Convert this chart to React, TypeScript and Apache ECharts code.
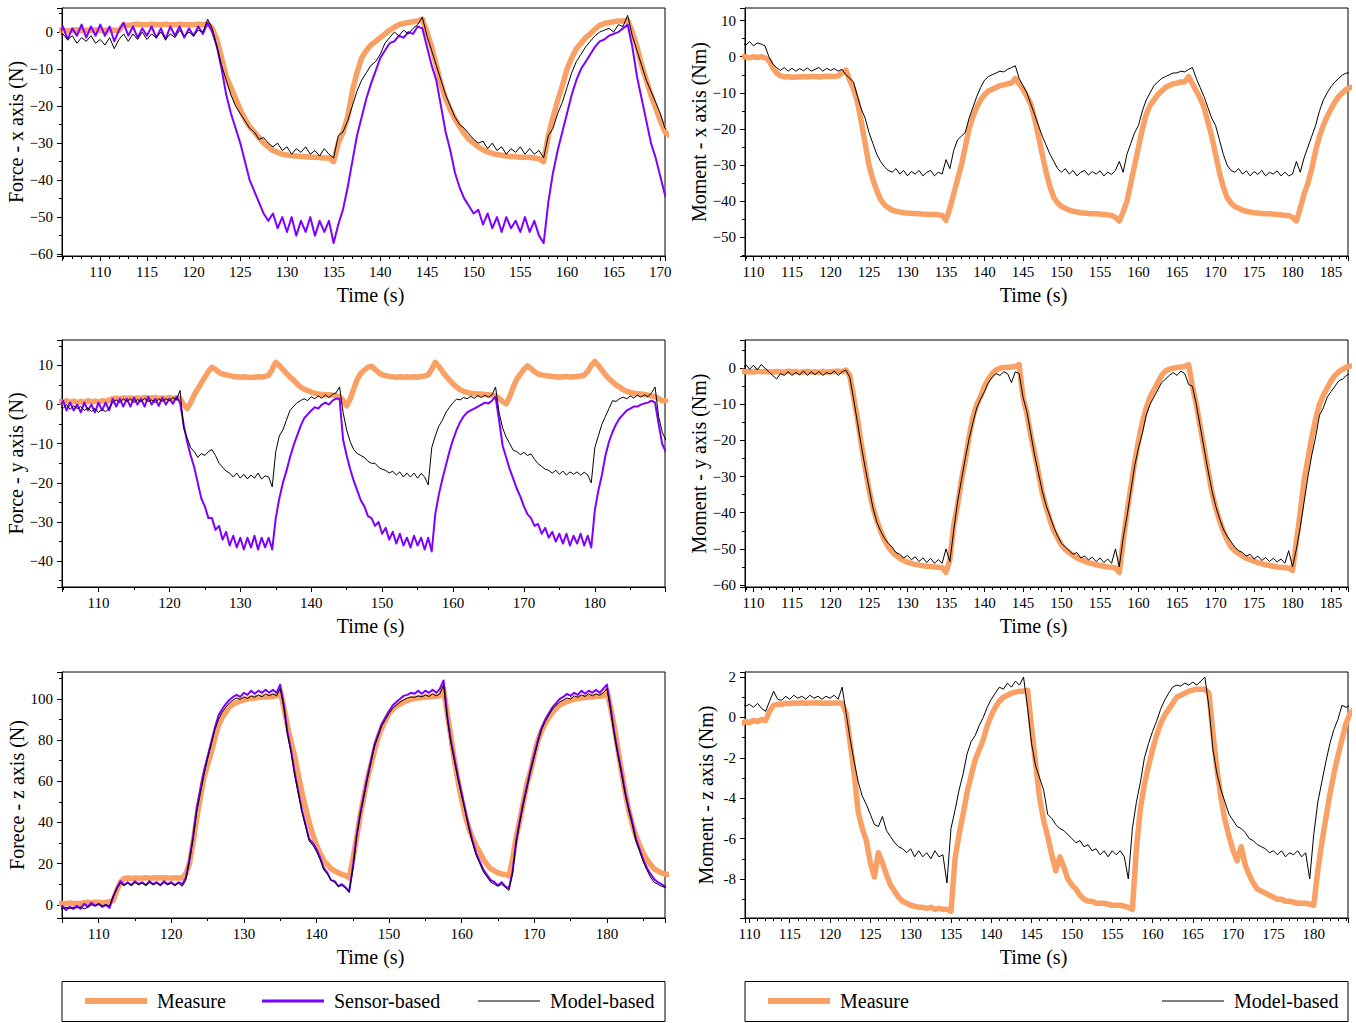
import React, { useEffect, useRef } from 'react';
import * as echarts from 'echarts';

// Every trace is sampled on a 0.5 s grid starting at its panel's T0.
const STEP = 0.5;

// ---- Force, x axis (N), from 105 s ----
const FX_T0 = 105;
const fxMeasure = [
  0.5, 0.5, 0.5, 0.3, 0.5, 0.6, 0.4, 0.5, 0.5, 0.6, // 105
  0.5, 0.5, 0.6, 0.5, 0.4, 2.0, 1.8, 2.0, 2.1, 2.0, // 110
  2.0, 2.1, 2.0, 2.0, 2.1, 2.0, 2.0, 2.1, 2.0, 2.0, // 115
  2.0, 2.1, 2.0, 2.2, 1.0, -2, -7, -12, -15, -18, // 120
  -21, -23.5, -25.5, -27, -28.5, -30, -31, -32, -32.5, -33, // 125
  -33.2, -33.4, -33.5, -33.6, -33.7, -33.8, -33.8, -33.9, -34, -34, // 130
  -35, -30, -27, -23, -16, -11, -7, -5, -3.5, -2.5, // 135
  -1.5, -0.5, 0.5, 1.3, 2.0, 2.3, 2.6, 2.8, 3.0, 3.5, // 140
  0, -4, -9, -14, -18, -21, -23.5, -25.5, -27.5, -29, // 145
  -30, -31, -31.8, -32.4, -32.8, -33.1, -33.3, -33.5, -33.6, -33.7, // 150
  -33.8, -33.8, -33.9, -34, -34.2, -35, -28, -23, -18.5, -14.5, // 155
  -10, -7, -4.5, -3, -1.5, -0.5, 0.8, 1.8, 2.3, 2.6, // 160
  2.8, 3.0, 3.0, 3.2, 0, -4, -9, -13, -17, -20.5, // 165
  -24, -27, -28, // 170
];
const fxSensor = [
  1, -1.5, 1.5, -2, 1, -1, 2, -1.5, 1.5, -1, // 105
  2, -1, 1.5, -2.5, 0.5, 2.5, -1, 1.5, -1.5, 1, // 110
  -1, 1.5, -1.5, 1, -2, 1.5, -1, 1.5, -1.5, 1, // 115
  -1, 1.5, -0.5, 2.5, 0, -4, -10, -17, -22, -26, // 120
  -30, -35, -40, -43, -46, -49, -51, -49, -53, -50, // 125
  -54, -50, -55, -51, -54, -50, -55, -51, -54, -51, // 130
  -57, -52, -48, -42, -35, -28, -23, -18, -14, -10.5, // 135
  -7, -5, -3, -2.5, -1, -1.5, 0, -0.5, 1.5, 1, // 140
  -4, -9, -13, -20, -27, -32, -38, -42, -45, -47, // 145
  -49, -48, -52, -49, -53, -50, -54, -50, -53, -51, // 150
  -54, -50, -54, -51, -55, -57, -46, -38, -32, -27, // 155
  -22, -17, -13, -10, -8, -6, -4, -2.5, -2, -1, // 160
  -0.5, 0, 1, 2, -4, -12, -18, -24, -30, -34, // 165
  -39, -44, -46, // 170
];
const fxModel = [
  0, -1, -0.5, -2, -1, -3, -1.5, -2.5, -1, -3, // 105
  -2, -3.5, -1.5, -4.5, -2, -0.5, -2.5, -0.5, -2, 0, // 110
  -2, -0.5, -1.5, 0, -2, -0.5, -1.5, 0.5, -1, 0, // 115
  -1, 0.5, 0, 3.5, 1, -4, -9, -13, -17, -20, // 120
  -22, -24, -26, -27, -29, -28.5, -30, -31, -30, -32, // 125
  -31, -33, -31.5, -32.5, -31, -33, -32, -33.5, -31.5, -33, // 130
  -34, -28, -27, -24, -20, -16, -13, -11, -9, -8, // 135
  -6, -3, -1.5, 0, -1, 0.5, -0.5, 1, 2, 4, // 140
  -1, -5, -9, -13, -17, -20, -23, -25, -26, -27.5, // 145
  -29, -30, -29.5, -31.5, -30, -32, -31, -33, -31.5, -32.5, // 150
  -31, -33, -31.5, -33, -32, -34, -28, -26, -22, -19, // 155
  -15, -11, -8, -6, -4, -2.5, -1, 0, 0.5, 1, // 160
  0, 2, 1.5, 4.5, -1, -5, -9, -13, -16, -19, // 165
  -22, -26, -27, // 170
];

// ---- Moment, x axis (Nm), from 108 s ----
const MX_T0 = 108;
const mxMeasure = [
  0, 0, 0, -0.3, 0, -0.2, 0, -0.3, -1, -3, // 108
  -4.5, -5.3, -5.6, -5.5, -5.7, -5.6, -5.6, -5.5, -5.6, -5.5, // 113
  -5.5, -5.6, -5.5, -5.4, -5.5, -5.5, -5.3, -4.5, -3.7, -6.5, // 118
  -9, -12.5, -18, -24, -30, -34, -37, -39.5, -41, -41.8, // 123
  -42.5, -42.8, -43, -43.2, -43.3, -43.4, -43.4, -43.5, -43.6, -43.6, // 128
  -43.7, -43.7, -43.8, -44, -45.3, -42, -38, -34, -30, -25, // 133
  -20, -16.5, -14, -12, -10.5, -9.5, -9, -8.5, -8, -7.8, // 138
  -7.5, -7.3, -6, -7.5, -9, -11, -13, -17, -22, -27, // 143
  -32, -36, -39, -40.5, -41.5, -42, -42.5, -42.8, -43, -43.2, // 148
  -43.3, -43.4, -43.5, -43.5, -43.6, -43.7, -43.8, -44, -44.5, -45.5, // 153
  -43, -40, -35, -30, -25, -20, -16, -13.5, -12, -10.5, // 158
  -9.5, -8.5, -8, -7.5, -7.3, -7, -7, -5.5, -7.5, -9.5, // 163
  -11.5, -14, -18, -22, -27, -32, -36, -39, -40.5, -41.5, // 168
  -42, -42.5, -42.8, -43, -43.2, -43.3, -43.4, -43.5, -43.5, -43.6, // 173
  -43.7, -43.8, -44, -44, -44.5, -45.5, -42, -38, -35, -31, // 178
  -26, -22, -19, -16.5, -14.5, -12.5, -11, -10, -9, -8.5, // 183
];
const mxModel = [
  3.5, 4, 3.2, 4.2, 3, 3.8, 3.5, 3, 0, -2, // 108
  -3, -3.8, -3, -4, -3.2, -4, -3.3, -3.9, -3.1, -4, // 113
  -3.5, -3, -4, -3.2, -3.8, -3.3, -4, -3.5, -5, -6, // 118
  -7, -11, -14.5, -17, -21, -24, -27, -29, -30.5, -31.5, // 123
  -32, -31, -32.5, -31.5, -33, -31.8, -32.5, -31.5, -33, -32, // 128
  -31.5, -33, -32, -32.5, -28.5, -31, -26, -23, -22, -21, // 133
  -17, -14, -11, -8.5, -6.5, -5.5, -5, -4.5, -4, -4.2, // 138
  -3.5, -3, -2.5, -6, -8, -10, -13, -16, -19, -22, // 143
  -24.5, -27, -29, -31, -32, -31, -32.5, -31.5, -33, -32, // 148
  -31.5, -32.8, -31.8, -32.5, -31.6, -33, -32, -32.6, -31.5, -29, // 153
  -32, -27, -24, -21, -19, -15, -12, -10, -8, -7, // 158
  -6, -5.5, -5, -4.5, -4.5, -4, -4.2, -3.5, -3, -6, // 163
  -8.5, -11, -14, -17, -19, -23, -27, -30, -31.5, -32, // 168
  -31, -32.5, -31.6, -33, -31.8, -32.6, -31.5, -33, -32, -32.5, // 173
  -31.6, -33, -32, -33, -32.5, -29, -32, -28, -25, -22, // 178
  -19, -15, -12, -10, -8.3, -7, -6, -5, -4.5, -4.5, // 183
];

// ---- Force, y axis (N), from 104 s ----
const FY_T0 = 104;
const fyMeasure = [
  0.5, 0.8, 0.5, 1, 0.6, 0.9, 0.5, 0.8, 0.6, 1, // 104
  0.7, 0.9, 0.6, 1, 0.8, 1.2, 1.5, 1.6, 1.5, 1.7, // 109
  1.6, 1.7, 1.5, 1.7, 1.6, 1.8, 1.6, 1.7, 1.8, 1.6, // 114
  1.7, 1.6, 1.8, 1.6, 1.7, 1.5, 0, -1, 0.5, 2.5, // 119
  4, 5.5, 7, 8.5, 9.5, 9, 8.2, 7.8, 7.6, 7.4, // 124
  7.2, 7.1, 7.0, 7.1, 7.0, 6.9, 7.0, 7.1, 7.0, 7.2, // 129
  7.5, 9, 10.8, 10, 9, 8, 7, 6.3, 5.3, 4.5, // 134
  3.9, 3.6, 3.2, 2.9, 2.7, 2.6, 2.5, 2.5, 2.4, 2.3, // 139
  2, 1, -0.3, 1.5, 4, 6.5, 8, 8.8, 9.5, 9.8, // 144
  9, 8.2, 7.6, 7.4, 7.2, 7.1, 7.0, 7.1, 7.0, 7.1, // 149
  7.0, 7.1, 7.0, 7.2, 7.3, 7.6, 9, 10.8, 9.8, 8.5, // 154
  7.3, 6.3, 5.3, 4.5, 3.8, 3.4, 3.1, 2.9, 2.8, 2.7, // 159
  2.7, 2.6, 2.5, 2.4, 2.2, 1.6, 0.8, 0.2, 2, 4.5, // 164
  6.5, 7.8, 9, 9.9, 9.2, 8.4, 7.8, 7.6, 7.4, 7.3, // 169
  7.2, 7.1, 7.0, 7.1, 7.2, 7.0, 7.1, 7.2, 7.3, 7.5, // 174
  8.5, 10, 11, 10, 8.8, 7.6, 6.6, 5.8, 5, 4.5, // 179
  3.8, 3.4, 3.1, 2.9, 2.8, 2.7, 2.6, 2.4, 2.2, 2, // 184
  1.5, 1, 1, // 189
];
const fySensor = [
  0.5, -1, 1, -1.5, 0.5, -1.5, 0, -2, 0.5, -1.5, // 104
  0, -2, 0.5, -1.5, 0.5, -1.5, 1.5, -0.5, 1.5, -0.5, // 109
  1.5, -0.5, 1.8, 0, 1.5, -0.5, 2, 0, 1.5, -0.3, // 114
  1.8, 0, 1.5, 0.2, 2, 0.5, -5, -9.5, -13, -16, // 119
  -20, -24, -26, -29, -29, -32, -31, -34.5, -32.5, -36, // 124
  -33.5, -36.5, -34, -37, -34, -36.5, -33.5, -37, -34, -36.5, // 129
  -34, -37, -29, -24, -20, -17, -13.5, -10.5, -8, -5.5, // 134
  -3.5, -2.5, -1.5, -0.7, -1, 0, 0.5, 0, 1, 1.5, // 139
  1.5, -9, -13, -16.5, -19.5, -22, -24.5, -26, -28.5, -29, // 144
  -31, -30, -33, -31.5, -34.5, -32.5, -35.5, -33, -36, -34, // 149
  -36.5, -33.5, -36, -34, -37, -34, -37.5, -28, -23, -19, // 154
  -15.5, -12, -9, -6.5, -4.5, -3, -2, -1.5, -1, -0.5, // 159
  0, 0.5, 0.3, 1, 2, -4, -10.5, -13.5, -16.5, -19, // 164
  -21.5, -23.5, -26, -28, -29, -31, -30.5, -33, -31.5, -34, // 169
  -32.5, -35, -33, -35.5, -33, -36, -33.5, -35.5, -33, -36, // 174
  -33.5, -36.5, -27, -22, -18, -13, -9.5, -7, -5, -3.5, // 179
  -2.5, -1.5, -1, -0.5, -0.5, 0, 0.3, 0.5, 1, 0.5, // 184
  -5, -10, -12, // 189
];
const fyModel = [
  0, -0.5, -1, 0, -1.2, -0.3, -1, -0.5, -1.5, -0.8, // 104
  -1.8, -1, -2, -1.2, -1.8, -1, 0.5, 1.2, 0.5, 1.5, // 109
  0.8, 1.5, 0.5, 1.3, 0.7, 1.6, 0.8, 1.2, 0.5, 1.5, // 114
  0.8, 1.5, 1, 1.8, 1.2, 3.6, -6, -8.5, -11, -12, // 119
  -13.5, -12.5, -13, -12, -11.5, -13, -15, -16, -17, -17.5, // 124
  -18.5, -17.5, -18.8, -17.8, -19, -18, -18.8, -17.5, -19, -18.2, // 129
  -18.5, -21, -12, -8, -6.5, -4, -1.5, -0.5, 0.5, 1, // 134
  1.5, 1, 2, 1.5, 2.2, 1.6, 2.5, 1.8, 2.6, 3, // 139
  4.5, -2, -6.5, -9.5, -11.5, -12.5, -13, -13.5, -14.5, -15, // 144
  -15, -16, -16.5, -16.8, -17.5, -17, -18, -17.2, -18.5, -17.5, // 149
  -18.5, -17.5, -18.8, -17.6, -18.5, -20.5, -11, -8, -5.5, -4, // 154
  -2, -0.7, 0.5, 1.4, 1.2, 1.8, 1.5, 2.1, 1.6, 2.3, // 159
  1.8, 2.4, 1.9, 2.5, 4.5, -2, -6, -8.3, -10, -11.7, // 164
  -12, -12.8, -12.2, -13, -12.6, -14, -15.1, -15.8, -16.5, -16.8, // 169
  -17.5, -16.8, -17.8, -17, -18, -17.2, -17.8, -17.2, -18, -17.3, // 174
  -18, -20, -11, -8, -5, -3, -1, 1, 0.8, 1.5, // 179
  1.9, 1.5, 2.2, 1.7, 2.4, 1.9, 2.5, 2, 3, 4.5, // 184
  -3, -7, -9, // 189
];

// ---- Moment, y axis (Nm), from 108 s ----
const MY_T0 = 108;
const myMeasure = [
  -1, -0.8, -1, -0.9, -1.1, -0.8, -1, -0.9, -1, -1.1, // 108
  -0.9, -1, -1.1, -0.8, -1, -0.9, -1.2, -1, -0.9, -1.1, // 113
  -1, -1.2, -0.9, -1.1, -1, -0.9, -0.8, -1, -0.5, -2, // 118
  -8, -14, -21, -27.5, -33.7, -38.5, -42, -45, -47.5, -49.5, // 123
  -50.8, -51.8, -52.6, -53.2, -53.7, -54, -54.3, -54.5, -54.7, -54.8, // 128
  -54.9, -55, -55.1, -55.2, -56.5, -53, -43.5, -38, -31, -25.5, // 133
  -19, -13.5, -10, -7.8, -5, -3, -1.5, -0.5, 0, 0.2, // 138
  0.2, 0.3, 0.5, 1, -8, -12.5, -18.5, -23.5, -29, -34.5, // 143
  -38.5, -42, -45, -47, -49, -50.2, -51, -51.8, -52.5, -53, // 148
  -53.4, -53.8, -54.1, -54.4, -54.6, -54.8, -55, -55.1, -55.3, -56.5, // 153
  -48, -40, -33, -26, -20, -15, -11, -8, -6, -4, // 158
  -2, -0.8, -0.3, 0, 0.2, 0.3, 0.5, 1, -5, -10, // 163
  -16, -22, -28, -34, -38.5, -42, -45, -47.5, -49.5, -50.5, // 168
  -51.3, -52, -52.6, -53, -53.4, -53.8, -54.1, -54.4, -54.6, -54.8, // 173
  -55, -55.1, -55.2, -55.3, -56, -48, -40, -31, -25, -19, // 178
  -14, -10, -7.5, -5.5, -3.5, -2, -1, -0.3, 0.3, 0.6, // 183
];
const myModel = [
  0.5, -0.5, 1, -0.3, 0.8, -0.5, 1, 0, -1, -2, // 108
  -3, -1.5, -2, -1, -2, -1.2, -1.8, -0.8, -2, -1, // 113
  -1.8, -0.9, -2, -1.2, -1.6, -0.8, -2, -1, -0.5, -2.5, // 118
  -8.5, -15, -21.5, -27.5, -33, -38.5, -42.5, -45, -47, -48.5, // 123
  -49.5, -51, -51.5, -52.5, -51.8, -53, -52.2, -53.5, -52.5, -53.8, // 128
  -52.6, -54, -53, -54, -50, -53.5, -45, -37, -31, -25, // 133
  -19.5, -15, -11, -8.5, -6.5, -4, -2.5, -1.5, -2, -1, // 138
  -1.5, -4, -1, -1.5, -8, -12, -18, -24, -29, -34, // 143
  -38, -41, -44, -46.5, -48.5, -49.5, -50.5, -51.5, -51, -52.5, // 148
  -52, -53, -52.3, -53.5, -52.5, -53.8, -52.8, -54, -50, -55, // 153
  -47, -41, -34, -27, -22, -18, -13, -10, -8, -6, // 158
  -4, -3, -2, -1.2, -2, -0.8, -1.5, -4.5, -5, -10, // 163
  -16, -22, -28, -33.5, -38, -41.5, -44.5, -46.5, -48, -49.5, // 168
  -50.5, -51, -52, -51.5, -52.8, -52, -53.2, -52.4, -53.5, -52.6, // 173
  -53.6, -52.8, -54, -50.5, -55, -50, -44, -37, -30, -24, // 178
  -19, -13, -11, -8, -6.5, -5, -3.5, -3, -2, -1.5, // 183
];

// ---- Force, z axis (N), from 104 s ----
const FZ_T0 = 104;
const fzMeasure = [
  0.5, 0.8, 0.5, 0.6, 0.9, 0.5, 0.7, 0.6, 1, 1.2, // 104
  1, 1.3, 1.2, 1, 1.2, 1.5, 2, 7, 11, 12.8, // 109
  13, 12.8, 13.1, 12.9, 13, 13.2, 12.9, 13.1, 13, 13.2, // 114
  13, 13.1, 12.9, 13.2, 13, 13.1, 15, 20, 30, 42, // 119
  52, 62, 68, 74, 81, 87, 91, 93.5, 96, 97.5, // 124
  98.3, 99, 99.6, 100, 100.3, 100.5, 100.7, 100.9, 101, 101.1, // 129
  101.2, 101.5, 104, 96, 87, 79, 72, 63, 54.5, 47, // 134
  40, 34, 29, 25, 21.5, 19.5, 17.5, 16.5, 15.5, 14.8, // 139
  14.2, 13, 22, 32, 43, 52, 61, 68, 75, 81.5, // 144
  86, 89.5, 93, 95, 96.5, 97.5, 98.5, 99.2, 99.8, 100.2, // 149
  100.5, 100.7, 100.9, 101, 101.2, 101.3, 101.5, 105, 93, 82, // 154
  70, 60, 51, 43, 37, 32.5, 28.5, 25.5, 22, 19.5, // 159
  17.5, 16.5, 15.5, 15, 14.8, 14, 22, 33, 41, 50, // 164
  59, 65, 73, 80, 84.5, 88, 91, 93.5, 95.5, 97, // 169
  98, 98.7, 99.3, 99.8, 100.2, 100.5, 100.7, 100.9, 101, 101.2, // 174
  101.3, 101.5, 104, 96, 87, 76, 65, 55, 46, 39, // 179
  33.5, 29, 25, 22, 19.5, 17.5, 16.5, 15.5, 15, 14.8, // 184
];
const fzSensor = [
  -1, -2.5, -0.5, -2.5, -1, -2, -0.5, -2, 0.5, -1, // 104
  1, -0.5, 0.5, -1, 0, -1.5, 4, 8, 11.5, 9.5, // 109
  11, 9.5, 11.5, 10, 11, 9.5, 11.5, 10, 11, 9.5, // 114
  11.5, 10, 11, 9.5, 11, 10, 13, 22, 33, 47, // 119
  56, 65, 72, 79, 86, 92, 95, 97.5, 99.5, 101, // 124
  102, 101, 103, 102, 104, 102.5, 104, 103, 104.5, 103, // 129
  104.5, 103, 107, 97, 84, 75, 64, 55, 46, 39, // 134
  32, 30, 27, 23, 18, 15.5, 12, 11.5, 9, 10, // 139
  8.5, 6.5, 18, 33, 44, 53, 62, 70, 78, 83, // 144
  88, 91, 94, 97, 98.5, 100, 101.5, 102, 103, 102.5, // 149
  104, 102.5, 104, 103, 104.5, 103, 105, 109, 92, 80, // 154
  71, 62, 54, 46, 38, 31, 25, 21, 17, 14.5, // 159
  12, 11, 9.5, 11, 9, 8, 16, 31, 41, 50, // 164
  58, 66, 73, 80, 86, 90, 93, 96, 98, 100, // 169
  101, 102.5, 101.5, 103, 102, 104, 102.5, 104, 103, 104.5, // 174
  103, 105, 107, 96, 84, 74, 65, 55, 47, 40, // 179
  32, 27, 22, 18, 15, 12.5, 11, 10, 9, 10, // 184
];
const fzModel = [
  -1.5, -1, -2, -1.2, -1.8, -1.3, -1.5, -1, -2, -1.2, // 104
  0, -0.5, 0.5, -0.5, 0, -0.5, 4, 8, 10.5, 9.5, // 109
  10.5, 9.5, 10.8, 9.8, 10.5, 9.6, 10.8, 9.8, 10.5, 9.6, // 114
  10.8, 9.8, 10.5, 9.5, 10.5, 9, 12, 21, 32, 45, // 119
  54, 63, 71, 78, 85, 90, 93.5, 96, 98, 99.5, // 124
  100.5, 99.8, 101, 100.2, 101.5, 100.8, 102, 101, 102.5, 101.5, // 129
  102.5, 101.5, 105, 96, 83, 74, 63, 54, 45, 38, // 134
  31, 29, 26, 22, 17, 15, 12, 11, 9, 9.5, // 139
  8, 6, 17, 32, 43, 52, 61, 69, 77, 82, // 144
  87, 90, 93, 95.5, 97, 98.5, 99.5, 100.5, 101, 100.8, // 149
  101.5, 101, 102, 101.2, 102.5, 101.5, 102.5, 107, 91, 79, // 154
  70, 61, 53, 45, 37, 30, 24, 20, 16, 13.5, // 159
  11, 10, 9, 10, 8.5, 7, 15, 30, 40, 49, // 164
  57, 65, 72, 79, 85, 89, 92, 95, 97, 98.5, // 169
  99.5, 100.5, 100, 101.5, 100.8, 102, 101.2, 102.5, 101.5, 102.5, // 174
  101.8, 103, 105, 95, 83, 73, 64, 54, 46, 39, // 179
  31, 26, 21, 17, 13.5, 11, 10, 9, 8.5, 9, // 184
];

// ---- Moment, z axis (Nm), from 109 s ----
const MZ_T0 = 109;
const mzMeasure = [
  -0.3, -0.2, -0.25, -0.15, -0.2, -0.1, -0.15, 0.3, 0.6, 0.65, // 109
  0.65, 0.7, 0.68, 0.72, 0.7, 0.73, 0.7, 0.72, 0.71, 0.73, // 114
  0.7, 0.72, 0.7, 0.71, 0.72, 0.7, 0.2, -1.3, -2.8, -4.7, // 119
  -5.5, -6.1, -7.2, -7.9, -6.7, -7.2, -7.8, -8.3, -8.6, -8.9, // 124
  -9.1, -9.2, -9.3, -9.35, -9.4, -9.4, -9.45, -9.4, -9.5, -9.45, // 129
  -9.5, -9.5, -9.6, -7, -5.8, -4.8, -3.7, -2.9, -2.1, -1.6, // 134
  -1.1, -0.4, 0.1, 0.5, 0.8, 1, 1.1, 1.2, 1.25, 1.3, // 139
  1.3, 1.35, -0.5, -2.3, -4, -5.1, -5.9, -6.8, -7.6, -6.9, // 144
  -7.4, -8, -8.3, -8.5, -8.8, -9, -9.1, -9.1, -9.2, -9.2, // 149
  -9.2, -9.25, -9.3, -9.3, -9.3, -9.35, -9.4, -9.5, -6.5, -4.5, // 154
  -3.3, -2.4, -1.6, -0.9, -0.3, 0.1, 0.4, 0.7, 1, 1.1, // 159
  1.2, 1.3, 1.35, 1.4, 1.4, 1.4, 1.2, -0.8, -2.6, -4, // 164
  -5.1, -5.9, -6.6, -7.1, -6.4, -7.3, -7.8, -8.2, -8.5, -8.6, // 169
  -8.7, -8.8, -8.9, -9, -9, -9.1, -9.1, -9.15, -9.2, -9.2, // 174
  -9.2, -9.25, -9.3, -7.6, -6.2, -5, -3.8, -2.8, -1.9, -1.1, // 179
  -0.3, 0.2, 0.4, // 184
];
const mzModel = [
  0.7, 0.55, 0.65, 0.5, 0.7, 0.45, 0.3, 0.8, 1.3, 0.9, // 109
  0.85, 1.05, 0.9, 1.1, 0.95, 1.05, 0.9, 1.1, 0.95, 1.05, // 114
  0.9, 1.05, 0.95, 1.1, 0.9, 1.5, 0.2, -1.1, -2.2, -3.2, // 119
  -3.9, -4.3, -4.8, -5.3, -5.4, -4.9, -5.6, -5.9, -6.2, -6.4, // 124
  -6.5, -6.7, -6.5, -6.9, -6.6, -6.9, -6.7, -7.0, -6.6, -6.9, // 129
  -6.8, -8.2, -5.5, -4.6, -3.6, -2.8, -1.8, -1.2, -0.9, -0.4, // 134
  0, 0.5, 0.9, 1.2, 1.5, 1.4, 1.7, 1.5, 1.8, 1.6, // 139
  2, 0.5, -1.3, -2.4, -3, -3.6, -4.8, -5, -5.3, -5.5, // 144
  -5.6, -5.8, -6, -6.2, -6.1, -6.4, -6.3, -6.6, -6.5, -6.8, // 149
  -6.6, -6.9, -6.6, -6.8, -6.6, -6.9, -8, -5.5, -4.2, -3.2, // 154
  -2, -1.3, -0.7, -0.2, 0.4, 0.85, 1.2, 1.5, 1.6, 1.55, // 159
  1.7, 1.6, 1.75, 1.6, 1.8, 2, 0.5, -1.6, -2.8, -3.6, // 164
  -4.2, -4.8, -5.1, -5.4, -5.5, -5.7, -6, -6.1, -6.3, -6.4, // 169
  -6.5, -6.7, -6.6, -6.8, -6.6, -6.9, -6.7, -6.8, -6.6, -6.9, // 174
  -6.7, -8, -5.8, -4.2, -3.2, -2.2, -1.3, -0.6, -0.1, 0.6, // 179
  0.5, 0.6, 0.5, // 184
];

const SERIF = 'Liberation Serif';
const ORANGE = '#F9A064';
const PURPLE = '#7F00FF';
const BLACK = '#000000';

const MEASURE = 'Measure';
const SENSOR = 'Sensor-based';
const MODEL = 'Model-based';

const toPoints = (t0: number, values: number[]) =>
  values.map((v, i) => [t0 + i * STEP, v]);

type Trace = { name: string; t0: number; values: number[] };

type Panel = {
  left: number;
  top: number;
  height: number;
  xRange: [number, number];
  xStep: number;
  xMinor: number;
  xNameShift: number;
  yRange: [number, number];
  yStep: number;
  yName: string;
  yNameGap: number;
  mathMinus: boolean;
  traces: Trace[];
};

const panels: Panel[] = [
  {
    left: 62, top: 8, height: 248,
    xRange: [105.9, 170.5], xStep: 5, xMinor: 5, xNameShift: 7,
    yRange: [-60.5, 6.5], yStep: 10,
    yName: 'Force - x axis (N)', yNameGap: 35, mathMinus: true,
    traces: [
      { name: MEASURE, t0: FX_T0, values: fxMeasure },
      { name: SENSOR, t0: FX_T0, values: fxSensor },
      { name: MODEL, t0: FX_T0, values: fxModel },
    ],
  },
  {
    left: 745, top: 8, height: 248,
    xRange: [108.9, 187.2], xStep: 5, xMinor: 5, xNameShift: -13,
    yRange: [-55.2, 13.5], yStep: 10,
    yName: 'Moment - x axis (Nm)', yNameGap: 29, mathMinus: true,
    traces: [
      { name: MEASURE, t0: MX_T0, values: mxMeasure },
      { name: MODEL, t0: MX_T0, values: mxModel },
    ],
  },
  {
    left: 62, top: 340, height: 247,
    xRange: [104.85, 189.9], xStep: 10, xMinor: 2, xNameShift: 7,
    yRange: [-46.6, 16.5], yStep: 10,
    yName: 'Force - y axis (N)', yNameGap: 35, mathMinus: true,
    traces: [
      { name: MEASURE, t0: FY_T0, values: fyMeasure },
      { name: SENSOR, t0: FY_T0, values: fySensor },
      { name: MODEL, t0: FY_T0, values: fyModel },
    ],
  },
  {
    left: 745, top: 340, height: 247,
    xRange: [108.9, 187.2], xStep: 5, xMinor: 5, xNameShift: -13,
    yRange: [-60.55, 7.8], yStep: 10,
    yName: 'Moment - y axis (Nm)', yNameGap: 29, mathMinus: true,
    traces: [
      { name: MEASURE, t0: MY_T0, values: myMeasure },
      { name: MODEL, t0: MY_T0, values: myModel },
    ],
  },
  {
    left: 62, top: 672, height: 246,
    xRange: [104.95, 188.0], xStep: 10, xMinor: 2, xNameShift: 7,
    yRange: [-6.4, 113.1], yStep: 20,
    yName: 'Forece - z axis (N)', yNameGap: 35, mathMinus: true,
    traces: [
      { name: MEASURE, t0: FZ_T0, values: fzMeasure },
      { name: SENSOR, t0: FZ_T0, values: fzSensor },
      { name: MODEL, t0: FZ_T0, values: fzModel },
    ],
  },
  {
    left: 745, top: 672, height: 246,
    xRange: [109.45, 184.25], xStep: 5, xMinor: 5, xNameShift: -13,
    yRange: [-9.93, 2.25], yStep: 2,
    yName: 'Moment - z axis (Nm)', yNameGap: 29, mathMinus: false,
    traces: [
      { name: MEASURE, t0: MZ_T0, values: mzMeasure },
      { name: MODEL, t0: MZ_T0, values: mzModel },
    ],
  },
];

const PANEL_WIDTH = 603;

const lineLook: Record<string, { color: string; width: number; legendHeight: number; z: number }> = {
  [MEASURE]: { color: ORANGE, width: 5.5, legendHeight: 6, z: 1 },
  [SENSOR]: { color: PURPLE, width: 2, legendHeight: 3, z: 2 },
  [MODEL]: { color: BLACK, width: 1, legendHeight: 1, z: 3 },
};

const blackLine = { color: '#000', width: 1 };

function tickText(v: number | string, mathMinus: boolean) {
  const s = String(v);
  return mathMinus ? s.replace('-', '\u2212') : s;
}

function buildOption() {
  const grid = panels.map((p) => ({
    left: p.left,
    top: p.top,
    width: PANEL_WIDTH,
    height: p.height,
    show: true,
    borderColor: '#000',
    borderWidth: 1,
    backgroundColor: 'transparent',
    containLabel: false,
  }));

  const xAxis = panels.map((p, i) => ({
    type: 'value',
    gridIndex: i,
    min: p.xRange[0],
    max: p.xRange[1],
    minInterval: p.xStep,
    maxInterval: p.xStep,
    splitNumber: Math.round((p.xRange[1] - p.xRange[0]) / p.xStep),
    name: 'Time (s)',
    nameLocation: 'middle',
    nameGap: 29,
    nameTextStyle: {
      fontFamily: SERIF,
      fontSize: 20,
      color: '#000',
      padding: p.xNameShift > 0 ? [0, 0, 0, 2 * p.xNameShift] : [0, -2 * p.xNameShift, 0, 0],
    },
    axisLine: { show: true, onZero: false, lineStyle: blackLine },
    axisTick: { show: true, inside: false, length: 5, lineStyle: blackLine },
    minorTick: { show: true, splitNumber: p.xMinor, length: 3, lineStyle: blackLine },
    axisLabel: {
      fontFamily: SERIF,
      fontSize: 15,
      color: '#000',
      margin: 8,
      showMinLabel: false,
      showMaxLabel: false,
      formatter: (v: number) => String(v),
    },
    splitLine: { show: false },
    minorSplitLine: { show: false },
  }));

  const yAxis = panels.map((p, i) => ({
    type: 'value',
    gridIndex: i,
    min: p.yRange[0],
    max: p.yRange[1],
    minInterval: p.yStep,
    maxInterval: p.yStep,
    splitNumber: Math.round((p.yRange[1] - p.yRange[0]) / p.yStep),
    name: p.yName,
    nameLocation: 'middle',
    nameGap: p.yNameGap,
    nameTextStyle: { fontFamily: SERIF, fontSize: 20, color: '#000' },
    axisLine: { show: true, onZero: false, lineStyle: blackLine },
    axisTick: { show: true, inside: false, length: 5, lineStyle: blackLine },
    minorTick: { show: true, splitNumber: 2, length: 3, lineStyle: blackLine },
    axisLabel: {
      fontFamily: SERIF,
      fontSize: 15,
      color: '#000',
      margin: 9,
      showMinLabel: false,
      showMaxLabel: false,
      formatter: (v: number) => tickText(v, p.mathMinus),
    },
    splitLine: { show: false },
    minorSplitLine: { show: false },
  }));

  const series = panels.flatMap((p, i) =>
    p.traces.map((tr) => {
      const look = lineLook[tr.name];
      return {
        type: 'line',
        name: tr.name,
        xAxisIndex: i,
        yAxisIndex: i,
        data: toPoints(tr.t0, tr.values),
        symbol: 'none',
        showSymbol: false,
        clip: true,
        z: look.z,
        itemStyle: { color: look.color },
        lineStyle: { color: look.color, width: look.width, cap: 'round', join: 'round' },
        emphasis: { disabled: true },
      };
    })
  );

  const legendEntry = (name: string, left: number) => ({
    data: [name],
    left,
    top: 991,
    padding: 0,
    icon: 'rect',
    itemWidth: 62,
    itemHeight: lineLook[name].legendHeight,
    itemGap: 0,
    selectedMode: false,
    textStyle: { fontFamily: SERIF, fontSize: 20, color: '#000', padding: [0, 0, 0, 5] },
  });

  return {
    animation: false,
    backgroundColor: '#ffffff',
    textStyle: { fontFamily: SERIF, color: '#000' },
    grid,
    xAxis,
    yAxis,
    series,
    legend: [
      legendEntry(MEASURE, 85),
      legendEntry(SENSOR, 262),
      legendEntry(MODEL, 478),
      legendEntry(MEASURE, 768),
      legendEntry(MODEL, 1162),
    ],
    graphic: [
      {
        type: 'rect',
        shape: { x: 62, y: 981.5, width: PANEL_WIDTH, height: 40 },
        style: { fill: 'none', stroke: '#000', lineWidth: 1 },
        silent: true,
      },
      {
        type: 'rect',
        shape: { x: 745, y: 981.5, width: PANEL_WIDTH, height: 40 },
        style: { fill: 'none', stroke: '#000', lineWidth: 1 },
        silent: true,
      },
    ],
  };
}

export default function App() {
  const ref = useRef<HTMLDivElement>(null);

  useEffect(() => {
    if (!ref.current) return;
    const chart = echarts.init(ref.current, null, { renderer: 'svg' });
    chart.setOption(buildOption() as any);
    return () => chart.dispose();
  }, []);

  return (
    <div
      ref={ref}
      style={{ position: 'fixed', left: 0, top: 0, width: 1356, height: 1023, background: '#fff' }}
    />
  );
}
